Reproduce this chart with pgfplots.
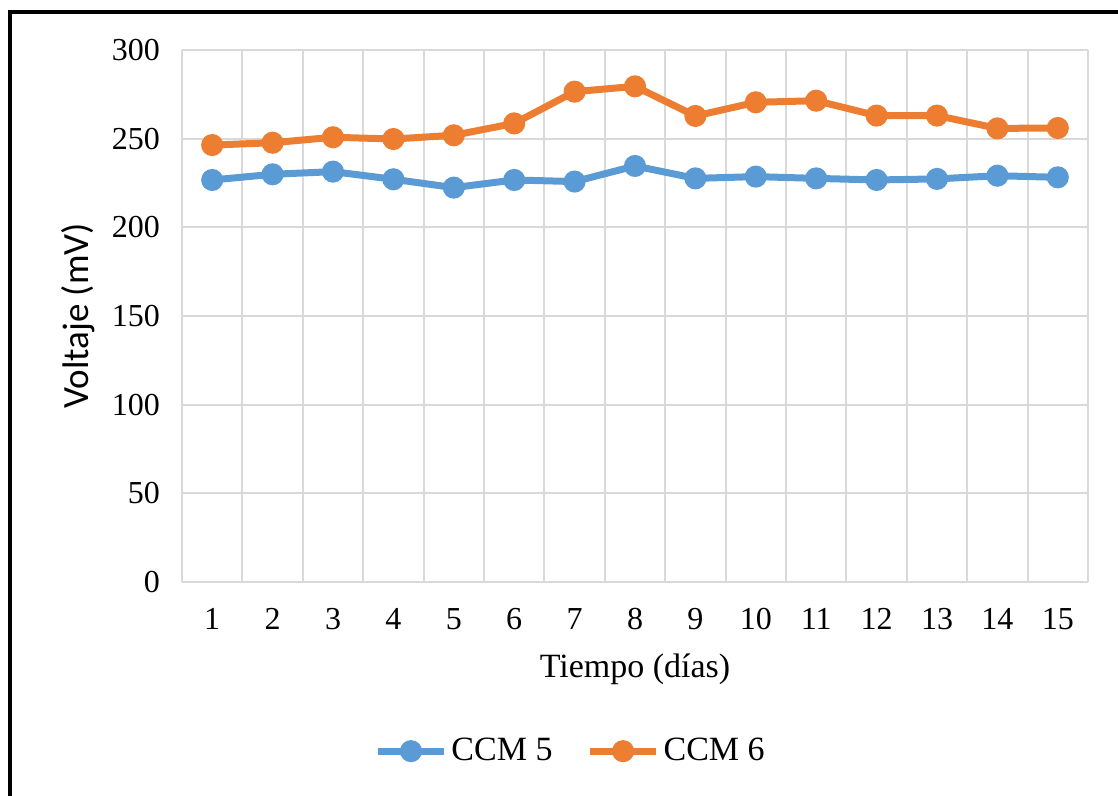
\documentclass[border=0pt]{standalone}
\usepackage{pgfplots}
\pgfplotsset{compat=1.18}
\usepackage{fontspec}
\setmainfont{Liberation Serif}
\newfontfamily\carlito{Carlito}
\definecolor{cblue}{HTML}{5B9BD5}
\definecolor{corange}{HTML}{ED7D31}
\definecolor{cgrid}{HTML}{D9D9D9}
\begin{document}
\begin{tikzpicture}
\useasboundingbox (0,0) rectangle (559pt,398pt);
\draw[line width=2pt] (4.75pt,-2pt) -- (4.75pt,392pt) -- (562pt,392pt);
\begin{axis}[
  at={(91pt,107pt)}, anchor=south west,
  scale only axis, width=453pt, height=266pt,
  xmin=0.5, xmax=15.5, ymin=0, ymax=300,
  xtick={1,...,15}, minor xtick={0.5,1.5,...,15.5},
  ytick={0,50,...,300},
  major tick length=0pt, minor tick length=0pt,
  xmajorgrids=false, xminorgrids=true, ymajorgrids=true,
  minor grid style={cgrid, line width=1pt},
  major grid style={cgrid, line width=1pt},
  axis line style={cgrid, line width=1pt},
  axis x line*=bottom, axis y line*=left,
  x axis line style={-}, y axis line style={-},
  /pgf/number format/assume math mode=true,
  ticklabel style={font=\fontsize{16}{19}\selectfont},
  xticklabel style={yshift=-9.5pt},
  yticklabel style={xshift=-7.5pt},
  xlabel={Tiempo (días)},
  ylabel={Voltaje (mV)},
  every axis x label/.style={at={(axis description cs:0.5,0)}, anchor=center, yshift=-43.5pt, font=\fontsize{17}{20}\selectfont},
  every axis y label/.style={at={(axis description cs:-0.115,0.5)}, anchor=center, rotate=90, font=\carlito\fontsize{18.5}{22}\selectfont},
  legend style={at={(0.43,-0.318)}, anchor=center, draw=none, legend columns=2, font=\fontsize{17}{20}\selectfont,
    /tikz/every even column/.append style={column sep=15pt}},
  legend cell align=left,
  legend image code/.code={\draw[mark repeat=2,mark phase=2,#1] plot coordinates {(0pt,0pt) (16.5pt,0pt) (33pt,0pt)};},
]
\addplot[cblue, line width=3.5pt, mark=*, mark size=3.75pt, mark options={solid}] coordinates {
(1,226.7) (2,229.9) (3,231.4) (4,227.1) (5,222.4) (6,226.7) (7,225.8) (8,234.6)
(9,227.6) (10,228.6) (11,227.6) (12,226.7) (13,227.3) (14,229.1) (15,228.2)};
\addlegendentry{CCM 5}
\addplot[corange, line width=3.5pt, mark=*, mark size=3.75pt, mark options={solid}] coordinates {
(1,246.4) (2,247.7) (3,250.8) (4,249.8) (5,251.9) (6,258.6) (7,276.5) (8,279.5)
(9,262.8) (10,270.5) (11,271.4) (12,263.0) (13,263.0) (14,255.8) (15,256.0)};
\addlegendentry{CCM 6}
\end{axis}
\end{tikzpicture}
\end{document}
